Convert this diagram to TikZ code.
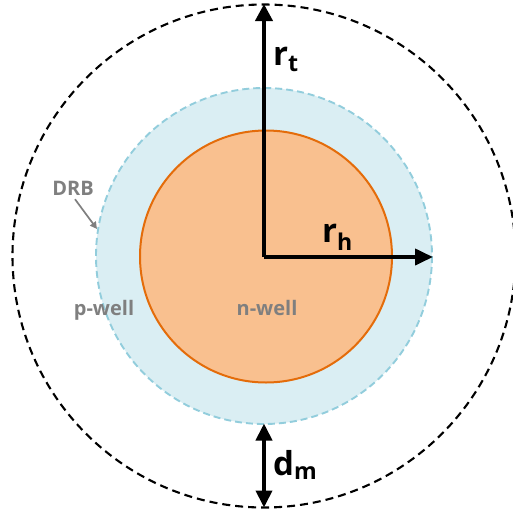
\documentclass[tikz,border=0pt]{standalone}
\usepackage{fontspec}
\setmainfont{Open Sans}
\usetikzlibrary{arrows.meta}
\definecolor{orfill}{RGB}{249,192,143}
\definecolor{orline}{RGB}{228,108,10}
\definecolor{blfill}{RGB}{218,238,243}
\definecolor{blline}{RGB}{146,205,220}
\definecolor{lbl}{RGB}{127,127,127}
\tikzset{
  dimarrow/.style={line width=3.9pt},
  biglabel/.style={font=\fontsize{33}{36}\selectfont\bfseries, inner sep=0pt, anchor=base west},
  graylabel/.style={font=\fontsize{20}{22}\selectfont\bfseries, text=lbl, inner sep=0pt, anchor=base},
}
\begin{document}
\begin{tikzpicture}[x=1pt,y=-1pt]
\useasboundingbox (0,0) rectangle (513,515);
\coordinate (c) at (264,256);
% outer dashed circle
\draw[line width=2.1pt, dash pattern=on 8pt off 5pt] (c) circle[radius=251.5];
% DRB / p-well circle
\fill[blfill] (c) circle[radius=168];
\draw[blline, line width=1.9pt, dash pattern=on 7pt off 4pt] (c) circle[radius=168];
% n-well circle
\draw[orline, fill=orfill, line width=2pt] (266,256.5) circle[radius=126];
% coordinates for arrows
\coordinate (o) at (264,257);
\coordinate (top) at (264,4);
\coordinate (rh) at (433,257);
\coordinate (dtop) at (264,423.5);
\coordinate (dbot) at (264,507.5);
\draw[dimarrow, -{Triangle[width=17pt,length=17pt]}] (o) -- (top);
\draw[dimarrow, -{Triangle[width=16pt,length=18pt]}] (o) -- (rh);
\draw[dimarrow, {Triangle[width=16pt,length=17pt]}-{Triangle[width=16pt,length=17pt]}] (dtop) -- (dbot);
% labels
\node[biglabel] (lrt) at (273,65) {r\textsubscript{t}};
\node[biglabel] (lrh) at (322,242) {r\textsubscript{h}};
\node[biglabel] (ldm) at (273,475) {d\textsubscript{m}};
\node[graylabel] (drb) at (73,195) {DRB};
\node[graylabel] (pw) at (104,315.5) {p-well};
\node[graylabel] (nw) at (267,315.5) {n-well};
\coordinate (drbtip) at (97,229);
\draw[lbl, line width=1.7pt, -{Triangle[width=7pt,length=7pt]}] (drb.south) ++(2,4) -- (drbtip);
\end{tikzpicture}
\end{document}
